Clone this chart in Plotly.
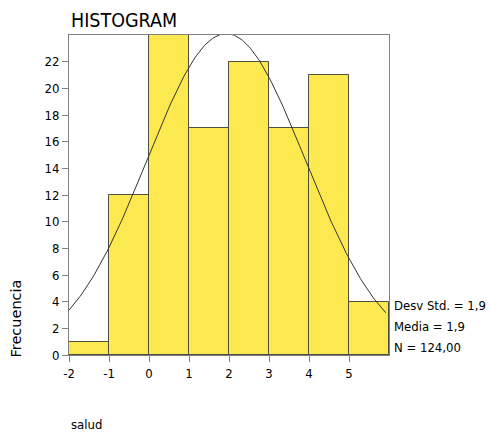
import numpy as np
import plotly.graph_objects as go

bin_left = [-2, -1, 0, 1, 2, 3, 4, 5]
counts = [1, 12, 30, 17, 22, 17, 21, 4]
bin_width = 1
x_ticks = [-2, -1, 0, 1, 2, 3, 4, 5]
y_ticks = [0, 2, 4, 6, 8, 10, 12, 14, 16, 18, 20, 22]
stats_text = ["Desv Std. = 1,9", "Media = 1,9", "N = 124,00"]
# normal-curve overlay
curve_mean = 1.93
curve_sd = 1.98
curve_peak = 24.1

FONT = "DejaVu Sans Condensed, DejaVu Sans"

centers = [b + bin_width / 2 for b in bin_left]
xs = np.linspace(-2, 5.92, 200)
ys = curve_peak * np.exp(-0.5 * ((xs - curve_mean) / curve_sd) ** 2)

fig = go.Figure()
fig.add_trace(go.Bar(x=centers, y=counts, width=bin_width,
                     marker=dict(color="#FCE94F", line=dict(color="#4d4d40", width=1)),
                     hoverinfo="skip"))
fig.add_trace(go.Scatter(x=xs, y=ys, mode="lines", line=dict(color="#333333", width=1), hoverinfo="skip"))

fig.update_layout(
    width=490, height=432,
    margin=dict(l=69, r=101, t=35, b=77),
    plot_bgcolor="white", paper_bgcolor="white",
    showlegend=False, bargap=0,
    font=dict(family=FONT, size=13, color="black"),
)
fig.update_xaxes(range=[-2, 6], tickvals=x_ticks, ticktext=[str(v) for v in x_ticks],
                 ticks="outside", ticklen=6, tickcolor="#808080", showgrid=False, zeroline=False,
                 showline=True, mirror=True, linecolor="#808080", linewidth=1,
                 tickfont=dict(size=13))
fig.update_yaxes(range=[0, 24], tickvals=y_ticks, ticks="outside", ticklen=6, tickcolor="#808080",
                 showgrid=False, zeroline=False, showline=True, mirror=True,
                 linecolor="#808080", linewidth=1, tickfont=dict(size=13))

stat_py = [305, 326, 347]
for txt, py in zip(stats_text, stat_py):
    fig.add_annotation(text=txt, xref="paper", yref="paper", x=1, xshift=3,
                       y=(355 - py) / 320, xanchor="left", yanchor="middle",
                       showarrow=False, font=dict(size=13, family=FONT))

fig.add_annotation(text="HISTOGRAM", xref="paper", yref="paper", x=0, y=(355 - 20) / 320,
                   xanchor="left", yanchor="middle", showarrow=False,
                   font=dict(size=19.5, family=FONT))
fig.add_annotation(text="Frecuencia", xref="paper", yref="paper", x=(15 - 69) / 320,
                   y=(355 - 318.5) / 320, xanchor="center", yanchor="middle", textangle=-90,
                   showarrow=False, font=dict(size=14.5, family="DejaVu Sans"))
fig.add_annotation(text="salud", xref="paper", yref="paper", x=0, y=(355 - 424) / 320,
                   xanchor="left", yanchor="middle", showarrow=False,
                   font=dict(size=13, family=FONT))

fig.write_html("out.html", config={"displayModeBar": False},
               post_script="document.body.style.margin='0';")
